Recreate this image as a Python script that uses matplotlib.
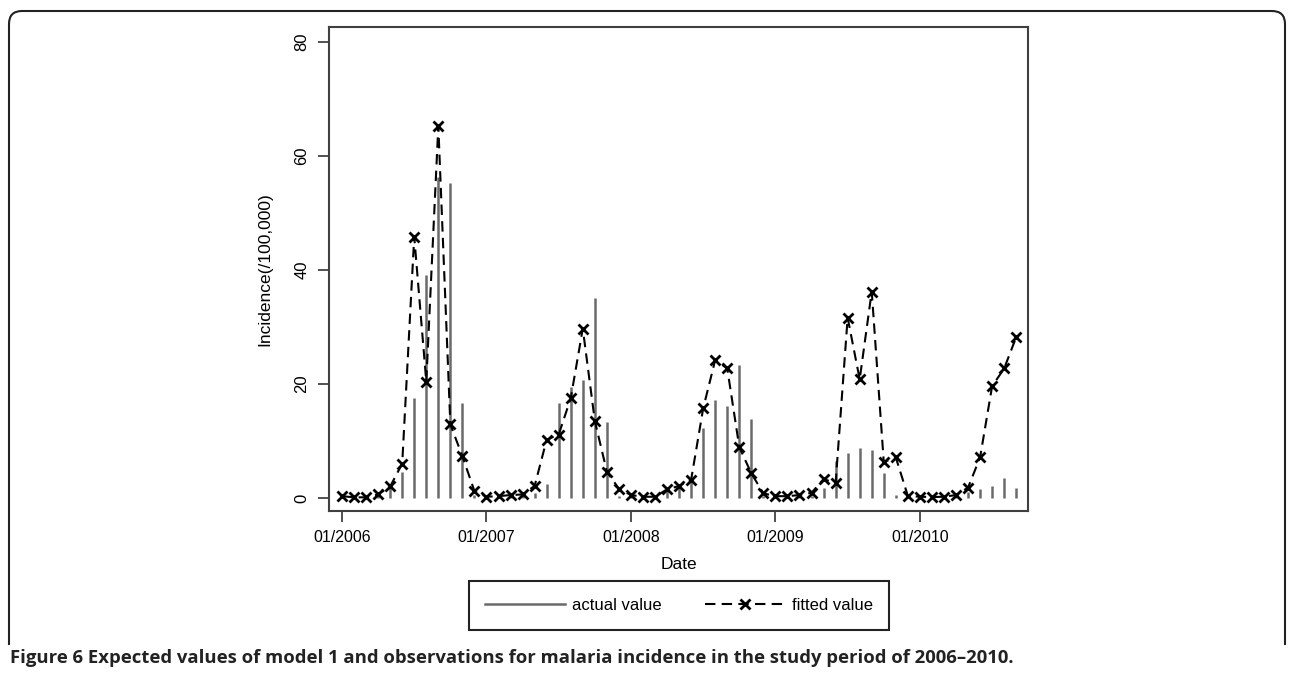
import matplotlib
matplotlib.use("Agg")
import matplotlib.pyplot as plt
from matplotlib.path import Path
from matplotlib.patches import PathPatch
from matplotlib.lines import Line2D

# monthly values, 01/2006 .. 09/2010
months = list(range(57))
actual = [0.1, 0.05, 0.1, 0.3, 2.0, 4.5, 17.5, 39.1, 56.3, 55.3, 16.6, 0.5,
          0.2, 0.1, 0.2, 0.3, 0.9, 2.5, 16.7, 19.5, 20.6, 35.1, 13.3, 0.3,
          0.1, 0.05, 0.1, 1.7, 2.0, 2.8, 12.2, 17.1, 16.1, 23.3, 13.8, 0.3,
          0.1, 0.1, 0.2, 0.4, 1.7, 6.5, 7.9, 8.7, 8.4, 4.3, 0.5, 0.1,
          0.05, 0.05, 0.1, 0.3, 1.1, 1.5, 2.0, 3.5, 1.8]
fitted = [0.3, 0.1, 0.1, 0.6, 2.0, 6.0, 45.8, 20.4, 65.2, 12.9, 7.3, 1.2,
          0.2, 0.3, 0.5, 0.6, 2.1, 10.2, 11.1, 17.5, 29.7, 13.5, 4.6, 1.6,
          0.5, 0.2, 0.2, 1.5, 2.1, 3.2, 15.7, 24.2, 22.7, 8.9, 4.3, 0.8,
          0.3, 0.3, 0.5, 0.9, 3.3, 2.6, 31.6, 20.8, 36.2, 6.3, 7.1, 0.35,
          0.2, 0.15, 0.2, 0.5, 1.8, 7.1, 19.6, 22.7, 28.2]
xtick_pos = [0, 12, 24, 36, 48]
xtick_labels = ["01/2006", "01/2007", "01/2008", "01/2009", "01/2010"]
ytick_pos = [0, 20, 40, 60, 80]
caption = ("Figure 6 Expected values of model 1 and observations for malaria "
           "incidence in the study period of 2006\u20132010.")

W, H = 1292, 676
plt.rcParams["font.family"] = ["Liberation Sans", "DejaVu Sans"]

fig = plt.figure(figsize=(W / 100, H / 100), dpi=100)
ax = fig.add_axes([329 / W, 1 - 511 / H, (1028 - 329) / W, (511 - 27) / H])

ax.vlines(months, 0, actual, color="#6a6a6a", lw=1.8)
ax.plot(months, fitted, color="black", lw=1.5, dashes=(5, 3),
        marker="x", markersize=7, markeredgewidth=2.0)

ax.set_xlim(-1.08, 56.98)
ax.set_ylim(-2.3, 82.6)
ax.set_xticks(xtick_pos)
ax.set_xticklabels(xtick_labels, fontsize=11.5)
ax.set_yticks(ytick_pos)
ax.set_yticklabels([str(v) for v in ytick_pos], fontsize=12, rotation=90,
                   va="center")
ax.tick_params(axis="x", length=8, width=1.2, pad=6, color="#333333")
ax.tick_params(axis="y", length=8, width=1.2, pad=6, color="#333333")
for s in ax.spines.values():
    s.set_color("#404040")
    s.set_linewidth(1.5)

ax.set_xlabel("Date", fontsize=12.5, labelpad=8)
ax.set_ylabel("Incidence(/100,000)", fontsize=12.5, labelpad=16)

handles = [Line2D([], [], color="#6a6a6a", lw=1.8),
           Line2D([], [], color="black", lw=1.5, dashes=(5, 3),
                  marker="x", markersize=7, markeredgewidth=2.0)]
leg = fig.legend(handles, ["actual value", "fitted value"], ncol=2,
                 loc="center", bbox_to_anchor=(679 / W, 1 - 605.5 / H),
                 fontsize=12, handlelength=4.8, handletextpad=0.4,
                 columnspacing=2.6, borderpad=1.0, numpoints=1,
                 fancybox=False, framealpha=1)
leg.get_frame().set_edgecolor("#222222")
leg.get_frame().set_linewidth(1.5)

# rounded outer frame (open at the bottom)
r = 13
L, R, T, B = 9, 1285, 11, 645
verts = [(L, B), (L, T + r), (L, T), (L + r, T), (R - r, T), (R, T), (R, T + r), (R, B)]
codes = [Path.MOVETO, Path.LINETO, Path.CURVE3, Path.CURVE3,
         Path.LINETO, Path.CURVE3, Path.CURVE3, Path.LINETO]
verts = [(x / W, 1 - y / H) for x, y in verts]
fig.patches.append(PathPatch(Path(verts, codes), transform=fig.transFigure,
                             fill=False, edgecolor="#222222", lw=1.5))

fig.text(10 / W, 1 - 658 / H, caption, fontsize=13.3, fontweight="bold",
         family=["Open Sans", "DejaVu Sans"], va="center", ha="left",
         color="#222222")

fig.savefig("out.png", dpi=100)
